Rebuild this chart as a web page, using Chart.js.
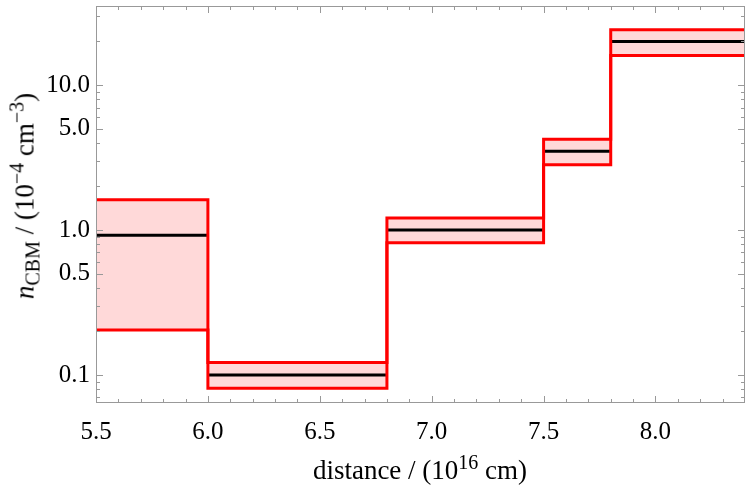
<!DOCTYPE html>
<html>
<head>
<meta charset="utf-8">
<script src="https://cdn.jsdelivr.net/npm/chart.js@4"></script>
<style>
  body { margin: 0; background: #fff; }
  #wrap { position: relative; width: 750px; height: 488px; }
  .ttl { position: absolute; font-family: "Liberation Serif", "DejaVu Serif", serif; font-size: 27px; color: #000; white-space: nowrap; line-height: 1; }
  .ttl sub, .ttl sup { font-size: 20px; line-height: 0; }
  #xTitle { left: 0; width: 840px; top: 457px; text-align: center; }
  #yTitle { left: 25px; top: 196px; transform: translate(-50%, -50%) rotate(-90deg); }
</style>
</head>
<body>
<div id="wrap">
  <canvas id="chart" width="750" height="488"></canvas>
  <div id="xTitle" class="ttl">distance / (10<sup>16</sup> cm)</div>
  <div id="yTitle" class="ttl"><i>n</i><sub>CBM</sub> / (10<sup>−4</sup> cm<sup>−3</sup>)</div>
</div>
<script>
// bin edges along distance and the band values per bin
const binEdges = [5.5, 6.0, 6.8, 7.5, 7.8, 8.4];
const centerVals = [0.92, 0.10, 1.0, 3.5, 20.0];
const upperVals = [1.62, 0.122, 1.21, 4.23, 24.1];
const lowerVals = [0.204, 0.081, 0.817, 2.82, 16.0];

const xTickLabels = [5.5, 6.0, 6.5, 7.0, 7.5, 8.0];
const xMinorTicks = [5.6, 5.7, 5.8, 5.9, 6.1, 6.2, 6.3, 6.4, 6.6, 6.7, 6.8, 6.9, 7.1, 7.2, 7.3, 7.4, 7.6, 7.7, 7.8, 7.9, 8.1, 8.2, 8.3];
const yTickLabels = [0.1, 0.5, 1.0, 5.0, 10.0];
const yMinorTicks = [0.07, 0.08, 0.09, 0.2, 0.3, 0.4, 0.6, 0.7, 0.8, 0.9, 2, 3, 4, 6, 7, 8, 9, 20, 30];

const n = centerVals.length;
const upperPts = binEdges.map((e, i) => ({ x: e, y: upperVals[Math.min(i, n - 1)] }));
const lowerPts = binEdges.map((e, i) => ({ x: e, y: lowerVals[Math.min(i, n - 1)] }));
const centerPts = [];
centerVals.forEach((v, i) => {
    centerPts.push({ x: binEdges[i], y: v }, { x: binEdges[i + 1], y: v }, { x: binEdges[i + 1], y: null });
});

const frameTicks = {
    id: 'frameTicks',
    afterDraw(chart) {
        const { ctx, chartArea: a, scales: { x, y } } = chart;
        ctx.save();
        ctx.strokeStyle = '#999';
        ctx.lineWidth = 1;
        const seg = (x1, y1, x2, y2) => { ctx.beginPath(); ctx.moveTo(x1, y1); ctx.lineTo(x2, y2); ctx.stroke(); };
        ctx.strokeRect(Math.round(a.left) + 0.5, Math.round(a.top) + 0.5, Math.round(a.width) - 1, Math.round(a.height) - 1);
        const xt = (vals, len) => vals.forEach(v => {
            const px = Math.round(x.getPixelForValue(v)) + 0.5;
            seg(px, a.bottom, px, a.bottom - len);
            seg(px, a.top, px, a.top + len);
        });
        const yt = (vals, len) => vals.forEach(v => {
            const py = Math.round(y.getPixelForValue(v)) + 0.5;
            if (py < a.top || py > a.bottom) return;
            seg(a.left, py, a.left + len, py);
            seg(a.right, py, a.right - len, py);
        });
        xt(xTickLabels, 7); xt(xMinorTicks, 4);
        yt(yTickLabels, 7); yt(yMinorTicks, 4);
        ctx.restore();
    }
};

const tickFont = { family: '"Liberation Serif", "DejaVu Serif", serif', size: 25 };

new Chart(document.getElementById('chart').getContext('2d'), {
    type: 'line',
    data: {
        datasets: [
            { data: upperPts, stepped: true, borderColor: '#FF0000', borderWidth: 3, pointRadius: 0, fill: false, order: 0 },
            { data: lowerPts, stepped: true, borderColor: '#FF0000', borderWidth: 3, pointRadius: 0, fill: '-1', backgroundColor: 'rgba(255,0,0,0.15)', order: 0 },
            { data: centerPts, borderColor: '#000000', borderWidth: 3, pointRadius: 0, fill: false, spanGaps: false, order: 1 }
        ]
    },
    options: {
        responsive: false,
        animation: false,
        layout: { padding: { top: 6, right: 5, left: 0, bottom: 0 } },
        plugins: {
            legend: { display: false },
            tooltip: { enabled: false },
            filler: { drawTime: 'beforeDatasetsDraw' }
        },
        scales: {
            x: {
                type: 'linear',
                min: 5.5,
                max: 8.4,
                grid: { display: false, drawTicks: false, tickLength: 0 },
                border: { display: false },
                afterBuildTicks: s => { s.ticks = xTickLabels.map(v => ({ value: v })); },
                afterFit: s => { s.height = 85; s.paddingLeft = 0; s.paddingRight = 0; },
                ticks: { color: '#000', font: tickFont, padding: 14, maxRotation: 0, callback: v => v.toFixed(1) }
            },
            y: {
                type: 'logarithmic',
                min: 0.0641,
                max: 35.1,
                grid: { display: false, drawTicks: false, tickLength: 0 },
                border: { display: false },
                afterBuildTicks: s => { s.ticks = yTickLabels.map(v => ({ value: v })); },
                afterFit: s => { s.width = 96; s.paddingTop = 0; s.paddingBottom = 0; },
                ticks: { color: '#000', font: tickFont, padding: 6, callback: v => v < 1 ? String(v) : v.toFixed(1) }
            }
        }
    },
    plugins: [frameTicks]
});
</script>
</body>
</html>
